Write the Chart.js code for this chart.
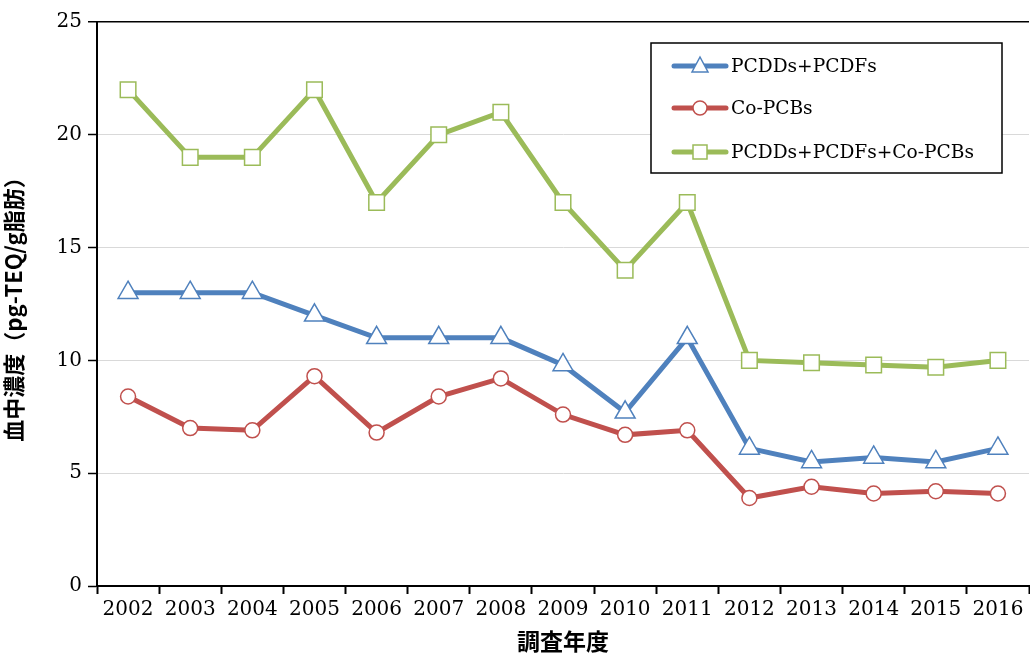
<!DOCTYPE html>
<html lang="ja">
<head>
<meta charset="UTF-8">
<title>Chart</title>
<style>
  html, body { margin: 0; padding: 0; background: #fff; overflow: hidden; }
  #wrap { width: 1042px; height: 655px; }
</style>
</head>
<body>
<div id="wrap"><canvas id="myChart"></canvas></div>
<script src="https://cdn.jsdelivr.net/npm/chart.js"></script>
<script>
const years = ['2002','2003','2004','2005','2006','2007','2008','2009','2010','2011','2012','2013','2014','2015','2016']
const pcddPcdf = [13, 13, 13, 12, 11, 11, 11, 9.8, 7.7, 11, 6.1, 5.5, 5.7, 5.5, 6.1]
const coPcb = [8.4, 7.0, 6.9, 9.3, 6.8, 8.4, 9.2, 7.6, 6.7, 6.9, 3.9, 4.4, 4.1, 4.2, 4.1]
const total = [22, 19, 19, 22, 17, 20, 21, 17, 14, 17, 10, 9.9, 9.8, 9.7, 10]
const seriesNames = ['PCDDs+PCDFs', 'Co-PCBs', 'PCDDs+PCDFs+Co-PCBs']
const yTitle = '血中濃度（pg-TEQ/g脂肪）'
const xTitle = '調査年度'

const serif = "'DejaVu Serif', serif"
const sans = "'Noto Sans CJK JP', 'Noto Sans', sans-serif"

// 凡例（枠付き）を自前で描く
const boxLegend = {
  id: 'boxLegend',
  afterDraw(chart) {
    const ctx = chart.ctx
    const x0 = 651, y0 = 43, w = 351, h = 130
    ctx.save()
    ctx.fillStyle = '#fff'
    ctx.fillRect(x0, y0, w, h)
    ctx.strokeStyle = '#000'
    ctx.lineWidth = 1.5
    ctx.strokeRect(x0, y0, w, h)
    const rows = [66, 108, 152]
    chart.data.datasets.forEach((ds, i) => {
      const y = rows[i]
      ctx.strokeStyle = ds.borderColor
      ctx.lineWidth = 5
      ctx.lineCap = 'round'
      ctx.beginPath()
      ctx.moveTo(674, y)
      ctx.lineTo(726, y)
      ctx.stroke()
      ctx.fillStyle = '#fff'
      ctx.lineWidth = 1.5
      ctx.beginPath()
      if (ds.pointStyle === 'triangle') {
        ctx.moveTo(700, y - 9)
        ctx.lineTo(708, y + 6)
        ctx.lineTo(692, y + 6)
        ctx.closePath()
      } else if (ds.pointStyle === 'circle') {
        ctx.arc(700, y, 7, 0, Math.PI * 2)
      } else {
        ctx.rect(693, y - 7, 14, 14)
      }
      ctx.fill()
      ctx.stroke()
      ctx.fillStyle = '#000'
      ctx.font = '18.6px ' + serif
      ctx.textBaseline = 'middle'
      ctx.textAlign = 'left'
      ctx.fillText(ds.label, 731, y + 1)
    })
    ctx.restore()
  }
}

function makeSet(label, data, color, style, radius) {
  return {
    label, data,
    borderColor: color,
    backgroundColor: '#fff',
    borderWidth: 5,
    pointStyle: style,
    pointRadius: radius,
    pointHoverRadius: radius,
    pointBackgroundColor: '#fff',
    pointBorderColor: color,
    pointBorderWidth: 1.5,
    tension: 0,
    clip: false
  }
}

new Chart(document.getElementById('myChart'), {
  type: 'line',
  data: {
    labels: years,
    datasets: [
      makeSet(seriesNames[0], pcddPcdf, '#4f81bd', 'triangle', 11.5),
      makeSet(seriesNames[1], coPcb, '#c0504d', 'circle', 7.5),
      makeSet(seriesNames[2], total, '#9bbb59', 'rect', 11)
    ]
  },
  options: {
    responsive: true,
    maintainAspectRatio: false,
    animation: false,
    layout: { padding: { top: 22, right: 0, left: 0, bottom: 0 } },
    plugins: {
      legend: { display: false },
      tooltip: { enabled: false }
    },
    scales: {
      x: {
        offset: true,
        grid: {
          offset: true,
          drawOnChartArea: false,
          tickLength: 8,
          tickColor: '#000',
          tickWidth: 2
        },
        border: { color: '#000', width: 2 },
        ticks: {
          color: '#000',
          font: { family: serif, size: 20 },
          padding: 4,
          maxRotation: 0,
          autoSkip: false
        },
        title: {
          display: true,
          text: xTitle,
          color: '#000',
          font: { family: sans, size: 23, weight: 'bold' },
          padding: { top: -8, bottom: 0 }
        },
        afterFit(scale) { scale.height = 69 }
      },
      y: {
        min: 0,
        max: 25,
        ticks: {
          stepSize: 5,
          color: '#000',
          font: { family: serif, size: 20 },
          padding: 6
        },
        grid: {
          color: c => c.tick && c.tick.value === 25 ? '#000' : '#d9d9d9',
          lineWidth: c => c.tick && c.tick.value === 25 ? 1.5 : 1,
          tickLength: 9,
          tickColor: '#000',
          tickWidth: 1.5
        },
        border: { color: '#000', width: 2 },
        title: {
          display: true,
          text: yTitle,
          color: '#000',
          font: { family: sans, size: 22, weight: 'bold' },
          padding: { top: 0, bottom: 2 }
        },
        afterFit(scale) { scale.width = 97 }
      }
    }
  },
  plugins: [boxLegend]
})
</script>
</body>
</html>
